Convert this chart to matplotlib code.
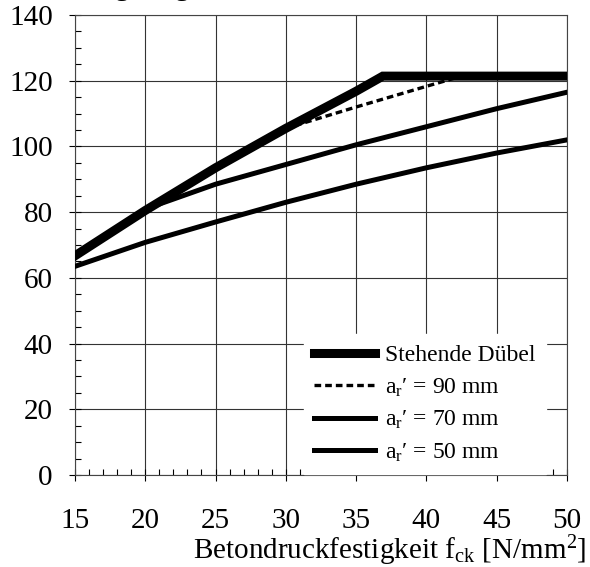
import matplotlib
matplotlib.use("Agg")
import matplotlib.pyplot as plt
from matplotlib.ticker import MultipleLocator

plt.rcParams['font.family'] = ['Liberation Serif', 'DejaVu Serif']
plt.rcParams['mathtext.fontset'] = 'custom'
plt.rcParams['mathtext.rm'] = 'Liberation Serif'
plt.rcParams['mathtext.it'] = 'Liberation Serif:italic'

# Data
x_steh = [15, 20, 25, 30, 35, 36.9, 50]
y_steh = [66.7, 80.5, 93.5, 105.5, 116.8, 121.4, 121.4]

x_90 = [15, 20, 25, 30, 35, 40, 42.5, 50]
y_90 = [66.7, 80.5, 93.5, 105.5, 112.0, 118.3, 121.4, 121.4]

x_70 = [15, 20, 20.7, 25, 30, 35, 40, 45, 50]
y_70 = [66.7, 80.5, 82.0, 88.5, 94.5, 100.5, 106.0, 111.5, 116.5]

x_50 = [15, 20, 25, 30, 35, 40, 45, 50]
y_50 = [63.5, 70.8, 77.0, 83.0, 88.5, 93.5, 98.0, 102.0]

labels = ["Stehende Dübel", "a$_\\mathrm{r}$′ = 90 mm", "a$_\\mathrm{r}$′ = 70 mm", "a$_\\mathrm{r}$′ = 50 mm"]
x_ticks = [15, 20, 25, 30, 35, 40, 45, 50]
y_ticks = [0, 20, 40, 60, 80, 100, 120, 140]

fig = plt.figure(figsize=(5.9, 5.67), dpi=100)
ax = fig.add_axes([0.127, 0.1623, 0.834, 0.8112])

ax.plot(x_steh, y_steh, color='black', lw=6.5, solid_joinstyle='miter', label=labels[0], zorder=5)
ax.plot(x_90, y_90, color='black', lw=2.4, ls=(0, (2.0, 1.2)), label=labels[1], zorder=4)
ax.plot(x_70, y_70, color='black', lw=3.6, label=labels[2], zorder=4)
ax.plot(x_50, y_50, color='black', lw=3.6, label=labels[3], zorder=4)

ax.set_xlim(15, 50)
ax.set_ylim(0, 140)
ax.set_xticks(x_ticks)
ax.set_yticks(y_ticks)
ax.xaxis.set_minor_locator(MultipleLocator(1))
ax.yaxis.set_minor_locator(MultipleLocator(5))
ax.tick_params(axis='both', which='major', labelsize=21, direction='inout', length=8, width=0.8, colors='black')
ax.tick_params(axis='both', which='minor', direction='in', length=4, width=0.8)
ax.tick_params(axis='x', which='major', pad=20)
ax.tick_params(axis='y', which='major', pad=12)
ax.tick_params(top=False, right=False)

ax.grid(True, which='major', color='#333333', lw=0.8)
for s in ax.spines.values():
    s.set_linewidth(0.8)
    s.set_color('#444444')

ax.set_xlabel("Betondruckfestigkeit f$_\\mathrm{ck}$ [N/mm$^\\mathrm{2}$]", fontsize=21)
ax.xaxis.set_label_coords(1.04, -0.128)
ax.xaxis.label.set_horizontalalignment('right')

leg = ax.legend(loc='lower right', bbox_to_anchor=(0.982, -0.024), fontsize=17, frameon=True,
                fancybox=False, edgecolor='white', facecolor='white', framealpha=1.0,
                handlelength=2.55, handletextpad=0.45, labelspacing=0.43, borderpad=0.45)
leg.set_zorder(10)

fig.text(0.125, 1.0 + 5 / 567, "Tragfähigkeit P$_\\mathrm{Rk}$ [kN]", fontsize=21, va='baseline', ha='left')

fig.savefig("out.png", dpi=100)
